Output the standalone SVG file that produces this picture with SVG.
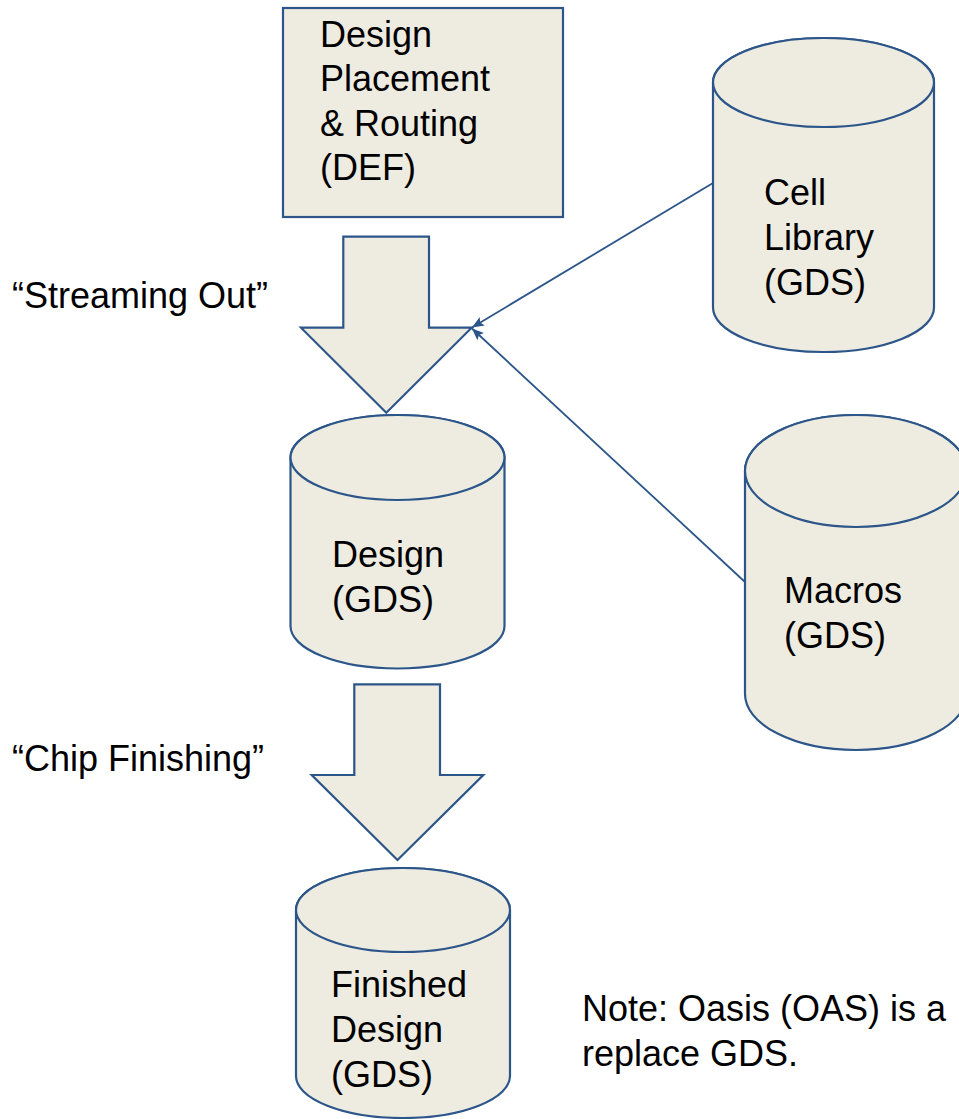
<svg xmlns="http://www.w3.org/2000/svg" width="959" height="1119" viewBox="0 0 959 1119">
  <style>
    .shape { fill: #EEECE1; stroke: #2C5589; stroke-width: 2.2; stroke-linejoin: miter; }
    .link { fill: none; stroke: #2C5589; stroke-width: 1.8; }
    .lbl { font-family: "Liberation Sans", Arial, Helvetica, sans-serif; font-size: 36px; fill: #000; }
  </style>
  <defs>
    <marker id="arrowhead" viewBox="0 0 12 10" refX="12" refY="5" markerWidth="12" markerHeight="10" markerUnits="userSpaceOnUse" orient="auto">
      <path d="M0,0 L12,5 L0,10 L2.5,5 Z" fill="#2C5589"/>
    </marker>
  </defs>

  <rect width="959" height="1119" fill="#FFFFFF"/>

  <!-- source layout: placement and routing -->
  <g id="def-box">
    <rect class="shape" x="283" y="8" width="280" height="209"/>
    <text class="lbl" x="320" y="46.5">Design</text>
    <text class="lbl" x="320" y="91">Placement</text>
    <text class="lbl" x="320" y="135.5">&amp; Routing</text>
    <text class="lbl" x="320" y="180">(DEF)</text>
  </g>

  <!-- stream-out step -->
  <g id="stream-out">
    <polygon class="shape" points="343.3,236.7 429,236.7 429,327.7 471.7,327.7 386.3,412.7 301,327.7 343.3,327.7"/>
    <text class="lbl" x="12" y="308">“Streaming Out”</text>
  </g>

  <!-- cell library database -->
  <g id="cell-library">
    <path class="shape" d="M713,82.5 L713,307.5 A110.5,44.5 0 0 0 934,307.5 L934,82.5 A110.5,44.5 0 0 0 713,82.5 Z"/>
    <ellipse class="shape" cx="823.5" cy="82.5" rx="110.5" ry="44.5"/>
    <text class="lbl" x="764" y="205">Cell</text>
    <text class="lbl" x="764" y="250">Library</text>
    <text class="lbl" x="764" y="295">(GDS)</text>
  </g>

  <!-- design database -->
  <g id="design-gds">
    <path class="shape" d="M290.5,457.5 L290.5,626 A107,42.5 0 0 0 504.5,626 L504.5,457.5 A107,42.5 0 0 0 290.5,457.5 Z"/>
    <ellipse class="shape" cx="397.5" cy="457.5" rx="107" ry="42.5"/>
    <text class="lbl" x="332" y="567">Design</text>
    <text class="lbl" x="332" y="612">(GDS)</text>
  </g>

  <!-- macros database -->
  <g id="macros">
    <path class="shape" d="M745,471 L745,694 A111,56 0 0 0 967,694 L967,471 A111,56 0 0 0 745,471 Z"/>
    <ellipse class="shape" cx="856" cy="471" rx="111" ry="56"/>
    <text class="lbl" x="784" y="603">Macros</text>
    <text class="lbl" x="784" y="648">(GDS)</text>
  </g>

  <!-- chip finishing step -->
  <g id="chip-finishing">
    <polygon class="shape" points="354.3,684.3 440,684.3 440,775 483.3,775 397.5,860 311.7,775 354.3,775"/>
    <text class="lbl" x="12" y="771">“Chip Finishing”</text>
  </g>

  <!-- finished design database -->
  <g id="finished-gds">
    <path class="shape" d="M296,910 L296,1076 A107,42 0 0 0 510,1076 L510,910 A107,42 0 0 0 296,910 Z"/>
    <ellipse class="shape" cx="403" cy="910" rx="107" ry="42"/>
    <text class="lbl" x="331" y="997">Finished</text>
    <text class="lbl" x="331" y="1042">Design</text>
    <text class="lbl" x="331" y="1087">(GDS)</text>
  </g>

  <!-- note -->
  <g id="note">
    <text class="lbl" x="582" y="1021">Note: Oasis (OAS) is a</text>
    <text class="lbl" x="582" y="1066">replace GDS.</text>
  </g>

  <!-- connectors: libraries merged during stream-out -->
  <g id="connectors">
    <line class="link" x1="713" y1="183" x2="472" y2="327.5" marker-end="url(#arrowhead)"/>
    <line class="link" x1="745" y1="582" x2="472" y2="328.5" marker-end="url(#arrowhead)"/>
  </g>
</svg>
